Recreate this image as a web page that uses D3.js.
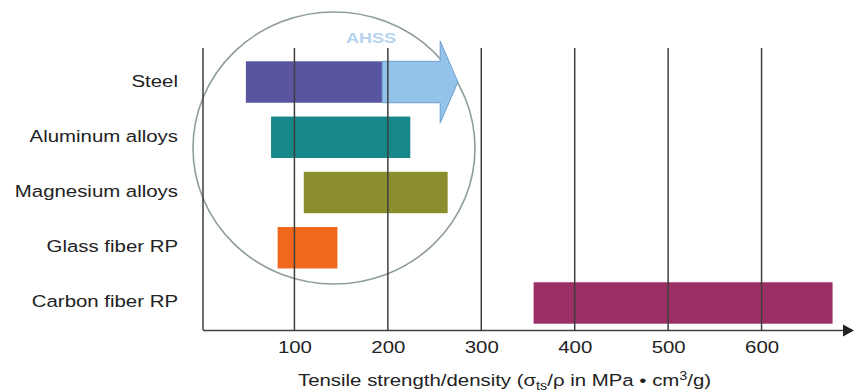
<!DOCTYPE html>
<html><head><meta charset="utf-8">
<script src="https://cdn.jsdelivr.net/npm/d3@7"></script>
<style>body{margin:0;background:#fff}svg{display:block}</style>
</head><body><svg id="c" width="859" height="392"></svg>
<script>
const categories = ["Steel","Aluminum alloys","Magnesium alloys","Glass fiber RP","Carbon fiber RP"];
const rangeStart = [48, 75, 110, 82, 356];
const rangeEnd = [194, 224, 264, 146, 676];
const barColors = ["#5a55a0","#16888a","#8a8e2c","#f0681e","#9c2e66"];
const ahssArrow = {start: 194, shaftEnd: 256, tip: 275};
const tickValues = [100,200,300,400,500,600];
const gridValues = [0,100,200,300,400,500,600];

const svg = d3.select("#c");
const x = d3.scaleLinear().domain([0,700]).range([201,855]);
const y = d3.scaleBand().domain(categories).range([54.4,330.6]).paddingInner(0.25).paddingOuter(0.125);
const font = "'Liberation Sans', Arial, sans-serif";
const SX = 1.2, FS = 17;

// highlight ellipse
svg.append("ellipse").attr("cx",334).attr("cy",148).attr("rx",141).attr("ry",136)
  .attr("fill","none").attr("stroke","#8e9c9a").attr("stroke-width",1.6);

// bars
const data = categories.map((c,i)=>({c, s:rangeStart[i], e:rangeEnd[i], col:barColors[i]}));
svg.selectAll("rect.bar").data(data).join("rect").attr("class","bar")
  .attr("x",d=>x(d.s)).attr("width",d=>x(d.e)-x(d.s))
  .attr("y",d=>y(d.c)).attr("height",y.bandwidth()).attr("fill",d=>d.col);

// AHSS arrow
const y0 = y("Steel"), bw = y.bandwidth(), yc = y0+bw/2;
const headH = 41;
svg.append("path").attr("d",[
  "M",x(ahssArrow.start),y0,"L",x(ahssArrow.shaftEnd),y0,"L",x(ahssArrow.shaftEnd),yc-headH,
  "L",x(ahssArrow.tip),yc,"L",x(ahssArrow.shaftEnd),yc+headH,"L",x(ahssArrow.shaftEnd),y0+bw,
  "L",x(ahssArrow.start),y0+bw,"Z"].join(" "))
  .attr("fill","#93c3ea").attr("stroke","#6e9fcf").attr("stroke-width",1);
svg.append("g").attr("transform",`translate(371,43) scale(${SX},1)`)
  .append("text").attr("text-anchor","middle").attr("font-family",font).attr("font-size",15)
  .attr("font-weight","bold").attr("fill","#b6d3ee").text("AHSS");

// grid lines (drawn over bars)
svg.selectAll("line.grid").data(gridValues).join("line").attr("class","grid")
  .attr("x1",d=>x(d)+(d===0?2:0)).attr("x2",d=>x(d)+(d===0?2:0)).attr("y1",48).attr("y2",330)
  .attr("stroke","#3e3e3e").attr("stroke-width",1.5);

// x axis
const axis = d3.axisBottom(x).tickValues(tickValues).tickSize(0).tickPadding(0);
const ag = svg.append("g").attr("transform","translate(0,330.5)").call(axis);
ag.select(".domain").remove();
ag.selectAll("text").attr("dy",null).attr("y",22.5).attr("transform",`scale(${SX},1)`)
  .attr("font-family",font).attr("font-size",FS).attr("fill","#222");
svg.append("line").attr("x1",x(0)+2).attr("x2",x(700)-10).attr("y1",330.5).attr("y2",330.5)
  .attr("stroke","#3e3e3e").attr("stroke-width",1.6);
svg.append("path").attr("d",`M${x(700)-12},324.5 L${x(700)-1},330.5 L${x(700)-12},336.5 Z`).attr("fill","#222");

// category labels
svg.selectAll("g.cat").data(categories).join("g").attr("class","cat")
  .attr("transform",d=>`translate(178,${y(d)+bw/2+4.5}) scale(${SX},1)`)
  .append("text").attr("text-anchor","end")
  .attr("font-family",font).attr("font-size",FS).attr("fill","#222").text(d=>d);

// axis title
const t = svg.append("g").attr("transform",`translate(298,386) scale(${SX},1)`)
  .append("text").attr("font-family",font).attr("font-size",FS).attr("fill","#222");
t.append("tspan").text("Tensile strength/density (σ");
t.append("tspan").attr("font-size",12).attr("dy",4).text("ts");
t.append("tspan").attr("dy",-4).text("/ρ in MPa • cm");
t.append("tspan").attr("font-size",12).attr("dy",-6).text("3");
t.append("tspan").attr("dy",6).text("/g)");
</script></body></html>
